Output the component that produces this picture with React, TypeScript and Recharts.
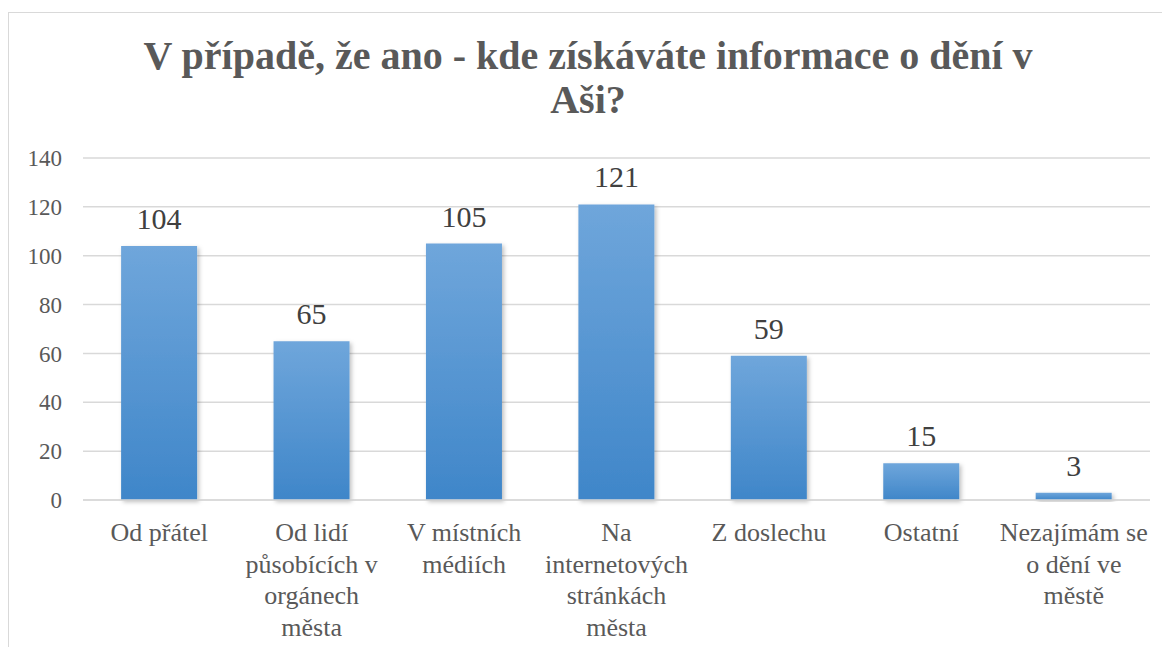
import { BarChart, Bar, XAxis, YAxis, CartesianGrid, LabelList } from "recharts";

const categories = [
  "Od přátel",
  "Od lidí působících v orgánech města",
  "V místních médiích",
  "Na internetových stránkách města",
  "Z doslechu",
  "Ostatní",
  "Nezajímám se o dění ve městě",
];

const tickLines = [
  ["Od přátel"],
  ["Od lidí", "působících v", "orgánech", "města"],
  ["V místních", "médiích"],
  ["Na", "internetových", "stránkách", "města"],
  ["Z doslechu"],
  ["Ostatní"],
  ["Nezajímám se", "o dění ve", "městě"],
];

const counts = [104, 65, 105, 121, 59, 15, 3];

const yTicks = [0, 20, 40, 60, 80, 100, 120, 140];

const data = categories.map((name, i) => ({ name, value: counts[i] }));

const FONT = "'Liberation Serif', Tinos, 'DejaVu Serif', serif";

function CategoryTick({ x, y, index }: any) {
  const lines = tickLines[index] || [];
  return (
    <text x={x} y={y} textAnchor="middle" fill="#595959" fontSize={26} style={{ fontFamily: FONT }}>
      {lines.map((l, i) => (
        <tspan key={i} x={x} dy={i === 0 ? 41 : 31.5}>
          {l}
        </tspan>
      ))}
    </text>
  );
}

export default function App() {
  return (
    <div
      style={{
        position: "relative",
        width: 1158,
        height: 640,
        marginTop: 4,
        border: "1px solid #d9d9d9",
        background: "#fff",
        fontFamily: FONT,
      }}
    >
      <div
        style={{
          position: "absolute",
          top: 20.5,
          left: 0,
          width: 1158,
          textAlign: "center",
          fontFamily: FONT,
          fontWeight: "bold",
          fontSize: 40,
          lineHeight: "44px",
          color: "#595959",
        }}
      >
        V případě, že ano - kde získáváte informace o dění v<br />
        Aši?
      </div>
      <BarChart
        width={1158}
        height={640}
        data={data}
        margin={{ top: 145, right: 17, left: 0, bottom: 0 }}
        barCategoryGap="25%"
        style={{ fontFamily: FONT }}
      >
        <defs>
          <linearGradient id="barFill" x1="0" y1="0" x2="0" y2="1">
            <stop offset="0%" stopColor="#6fa6db" />
            <stop offset="100%" stopColor="#3f86c9" />
          </linearGradient>
          <filter id="barShadow" x="-20%" y="-20%" width="140%" height="140%">
            <feDropShadow dx="2" dy="2" stdDeviation="2" floodColor="#000" floodOpacity="0.25" />
          </filter>
        </defs>
        <CartesianGrid vertical={false} stroke="#d9d9d9" strokeWidth={1.5} />
        <XAxis
          dataKey="name"
          axisLine={{ stroke: "#d9d9d9", strokeWidth: 1.5 }}
          tickLine={false}
          tickSize={0}
          tickMargin={0}
          height={153}
          interval={0}
          tick={<CategoryTick />}
        />
        <YAxis
          domain={[0, 140]}
          ticks={yTicks}
          width={74}
          axisLine={false}
          tickLine={false}
          tickSize={0}
          tickMargin={21}
          tick={{ fill: "#595959", fontSize: 23, style: { fontFamily: FONT } }}
        />
        <Bar dataKey="value" fill="url(#barFill)" filter="url(#barShadow)" isAnimationActive={false}>
          <LabelList
            dataKey="value"
            position="top"
            offset={17}
            fill="#404040"
            fontSize={30}
            style={{ fontFamily: FONT }}
          />
        </Bar>
      </BarChart>
    </div>
  );
}
